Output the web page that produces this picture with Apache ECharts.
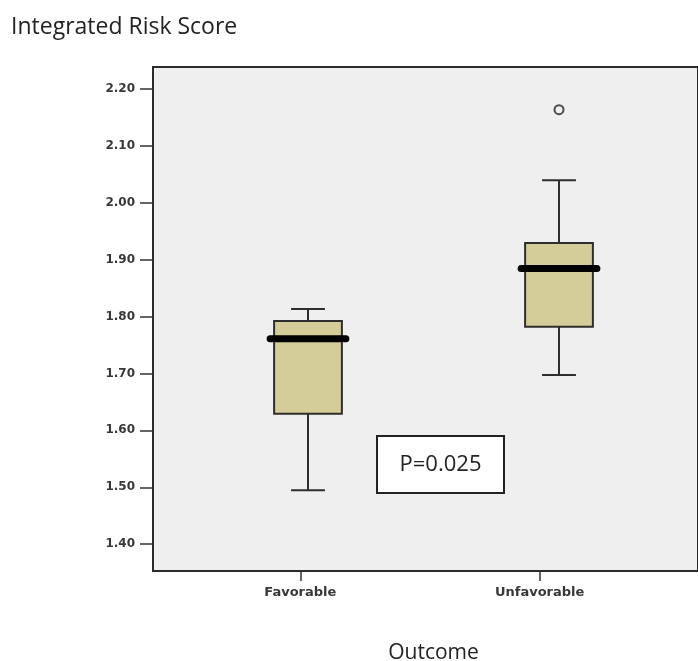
<!DOCTYPE html>
<html>
<head>
<meta charset="utf-8">
<script src="https://cdn.jsdelivr.net/npm/echarts@6/dist/echarts.min.js"></script>
<style>
  html, body { margin: 0; padding: 0; background: #ffffff; }
  #chart { width: 698px; height: 661px; }
</style>
</head>
<body>
<div id="chart"></div>
<script>
// ---- Data ----
var categories = ['Favorable', 'Unfavorable'];
var lowerWhisker = [1.495, 1.697];
var q1 = [1.629, 1.782];
var median = [1.761, 1.884];
var q3 = [1.792, 1.929];
var upperWhisker = [1.813, 2.039];
var outliers = [[1, 2.163]];
var yTicks = [1.40, 1.50, 1.60, 1.70, 1.80, 1.90, 2.00, 2.10, 2.20];
var yMin = 1.353, yMax = 2.238;
var pValueText = 'P=0.025';
var yTitle = 'Integrated Risk Score';
var xTitle = 'Outcome';

var boxData = categories.map(function (c, i) {
  return [i, lowerWhisker[i], q1[i], median[i], q3[i], upperWhisker[i]];
});

var chart = echarts.init(document.getElementById('chart'), null, { renderer: 'canvas' });

var tickFont = { fontSize: 12, fontWeight: 'bold', color: '#383838', fontFamily: 'DejaVu Sans' };

var option = {
  backgroundColor: '#ffffff',
  animation: false,
  title: {
    text: yTitle,
    left: 6, top: 11,
    textStyle: { fontSize: 23, fontWeight: 'normal', color: '#222', fontFamily: 'Open Sans' }
  },
  grid: [
    { left: 153, right: 0, top: 67, bottom: 90, show: true, backgroundColor: '#efefef', borderColor: '#2b2b2b', borderWidth: 2, outerBoundsMode: 'none', containLabel: false },
    { left: 182.5, right: 13.5, top: 67, bottom: 90, outerBoundsMode: 'none', containLabel: false },
    { left: 180.7, right: 38.7, top: 67, bottom: 90, outerBoundsMode: 'none', containLabel: false }
  ],
  xAxis: [
    { gridIndex: 0, type: 'value', show: false },
    { gridIndex: 1, type: 'category', data: categories,
      axisLine: { show: false }, axisTick: { show: false }, axisLabel: { show: false },
      name: xTitle, nameLocation: 'middle', nameGap: 72,
      nameTextStyle: { fontSize: 21, color: '#222', fontFamily: 'Open Sans' } },
    { gridIndex: 2, type: 'category', data: categories,
      axisLine: { show: false },
      axisTick: { show: true, alignWithLabel: true, length: 10, lineStyle: { color: '#333', width: 1.5 } },
      axisLabel: Object.assign({ margin: 15 }, tickFont, { fontSize: 13 }) }
  ],
  yAxis: [
    { gridIndex: 0, type: 'value', min: yMin, max: yMax,
      axisLine: { show: true, lineStyle: { color: '#2b2b2b', width: 2 } },
      axisTick: { show: true, length: 13, customValues: yTicks, lineStyle: { color: '#333', width: 1.5 } },
      axisLabel: Object.assign({ margin: 18, customValues: yTicks, formatter: function (v) { return v.toFixed(2); } }, tickFont),
      splitLine: { show: false } },
    { gridIndex: 1, type: 'value', min: yMin, max: yMax, show: false },
    { gridIndex: 2, type: 'value', min: yMin, max: yMax, show: false }
  ],
  series: [
    {
      type: 'custom',
      xAxisIndex: 1, yAxisIndex: 1,
      data: boxData,
      encode: { x: 0, y: [1, 2, 3, 4, 5] },
      renderItem: function (params, api) {
        var c = api.value(0);
        var pLo = api.coord([c, api.value(1)]);
        var pQ1 = api.coord([c, api.value(2)]);
        var pMed = api.coord([c, api.value(3)]);
        var pQ3 = api.coord([c, api.value(4)]);
        var pHi = api.coord([c, api.value(5)]);
        var bw = api.size([1, 0])[0] * 0.27;
        var hw = bw / 2;
        var cx = pMed[0];
        var line = { stroke: '#2e2e2e', lineWidth: 2 };
        return {
          type: 'group',
          children: [
            { type: 'line', shape: { x1: cx, y1: pQ3[1], x2: cx, y2: pHi[1] }, style: line },
            { type: 'line', shape: { x1: cx, y1: pQ1[1], x2: cx, y2: pLo[1] }, style: line },
            { type: 'line', shape: { x1: cx - hw / 2, y1: pHi[1], x2: cx + hw / 2, y2: pHi[1] }, style: line },
            { type: 'line', shape: { x1: cx - hw / 2, y1: pLo[1], x2: cx + hw / 2, y2: pLo[1] }, style: line },
            { type: 'rect', shape: { x: cx - hw, y: pQ3[1], width: bw, height: pQ1[1] - pQ3[1] },
              style: { fill: '#d4cc99', stroke: '#2e2e2e', lineWidth: 2 } },
            { type: 'line', shape: { x1: cx - hw - 4, y1: pMed[1], x2: cx + hw + 4, y2: pMed[1] },
              style: { stroke: '#000', lineWidth: 7, lineCap: 'round' } }
          ]
        };
      }
    },
    {
      type: 'scatter',
      xAxisIndex: 1, yAxisIndex: 1,
      data: outliers,
      symbol: 'circle', symbolSize: 9,
      itemStyle: { color: '#efefef', borderColor: '#222', borderWidth: 2 }
    }
  ],
  graphic: [
    {
      type: 'group', left: 376, top: 435,
      children: [
        { type: 'rect', shape: { x: 0, y: 0, width: 127, height: 57 },
          style: { fill: '#ffffff', stroke: '#222', lineWidth: 2 } },
        { type: 'text', x: 63.5, y: 28.5,
          style: { text: pValueText, fontSize: 22, fill: '#222', fontFamily: 'Open Sans', align: 'center', verticalAlign: 'middle' } }
      ]
    }
  ]
};
chart.setOption(option);
</script>
</body>
</html>
